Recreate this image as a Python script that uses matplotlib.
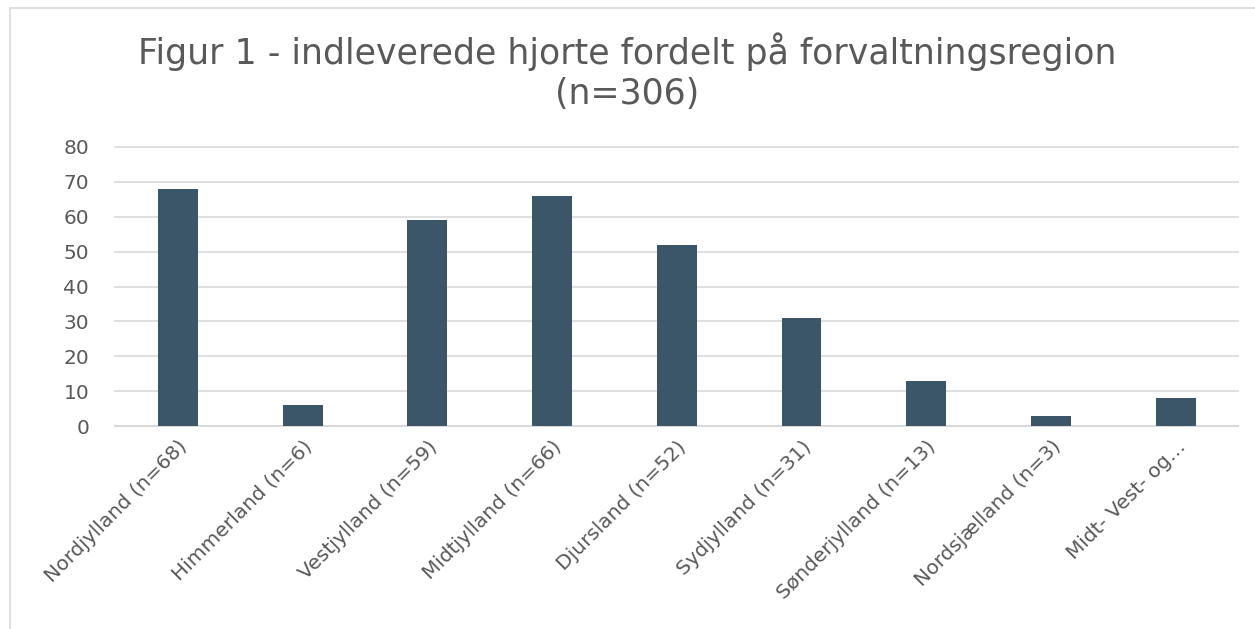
import matplotlib.pyplot as plt
from matplotlib.patches import Rectangle

regions = ['Nordjylland (n=68)', 'Himmerland (n=6)', 'Vestjylland (n=59)', 'Midtjylland (n=66)',
           'Djursland (n=52)', 'Sydjylland (n=31)', 'Sønderjylland (n=13)', 'Nordsjælland (n=3)',
           'Midt- Vest- og…']
counts = [68, 6, 59, 66, 52, 31, 13, 3, 8]
y_ticks = [0, 10, 20, 30, 40, 50, 60, 70, 80]

txt_color = '#595959'
grid_color = '#d9d9d9'

fig = plt.figure(figsize=(12.55, 6.29), dpi=100)
ax = fig.add_axes([0.092, 0.3227, 0.8945, 0.4436])

# kader rundt om diagrammet
fig.patches.append(Rectangle((10 / 1255, -0.05), 1.1, 1 - 8 / 629 + 0.05, transform=fig.transFigure,
                             fill=False, edgecolor=grid_color, linewidth=1.2))

x = range(len(regions))
ax.bar(x, counts, width=0.32, color='#3a5668', zorder=3)

ax.set_xlim(-0.5, len(regions) - 0.5)
ax.set_ylim(0, 80)
ax.set_yticks(y_ticks)
ax.set_xticks(list(x))
ax.set_xticklabels(regions, rotation=45, ha='right', rotation_mode='anchor')
ax.tick_params(axis='both', length=0, colors=txt_color, labelsize=14.5)
ax.tick_params(axis='y', pad=19)
ax.tick_params(axis='x', pad=8)
ax.grid(axis='y', color=grid_color, linewidth=1.2, zorder=0)
for line in ax.get_ygridlines():
    line.set_clip_on(False)
for s in ['top', 'right', 'left']:
    ax.spines[s].set_visible(False)
ax.spines['bottom'].set_color(grid_color)
ax.spines['bottom'].set_linewidth(1.5)

fig.text(0.5, 0.948, 'Figur 1 - indleverede hjorte fordelt på forvaltningsregion\n(n=306)',
         ha='center', va='top', fontsize=25, color=txt_color, linespacing=1.22)

plt.savefig('out.png', dpi=100)
